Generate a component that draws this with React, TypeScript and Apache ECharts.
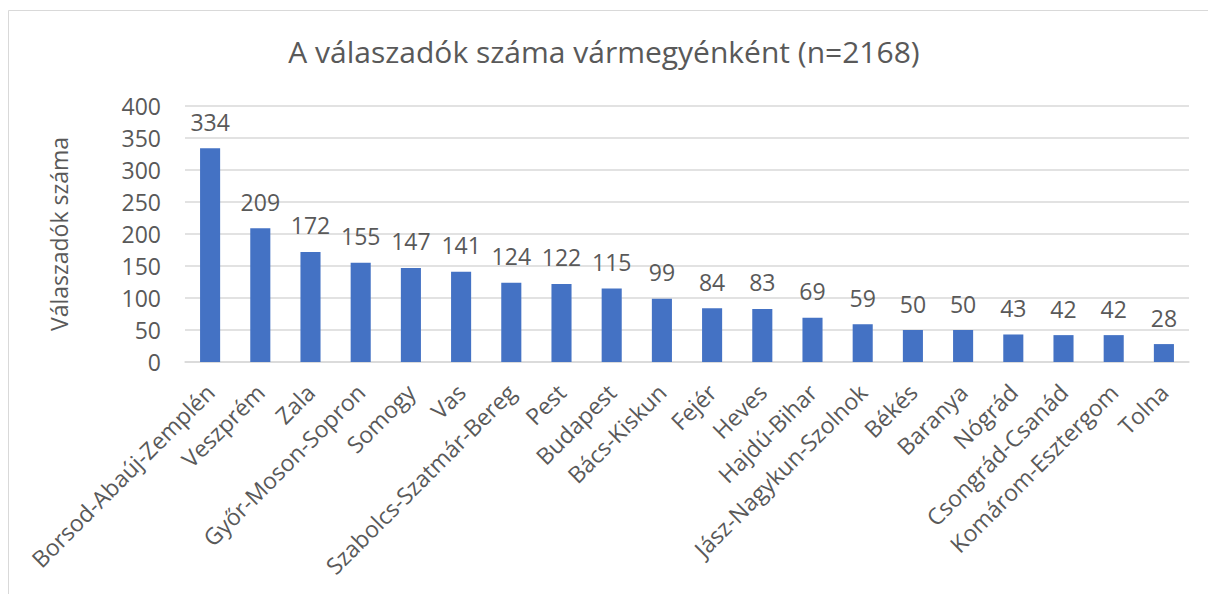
import React, { useEffect, useRef } from "react";
import * as echarts from "echarts";

const titleText = "A válaszadók száma vármegyénként (n=2168)";
const yAxisName = "Válaszadók száma";
const categories = [
  "Borsod-Abaúj-Zemplén",
  "Veszprém",
  "Zala",
  "Győr-Moson-Sopron",
  "Somogy",
  "Vas",
  "Szabolcs-Szatmár-Bereg",
  "Pest",
  "Budapest",
  "Bács-Kiskun",
  "Fejér",
  "Heves",
  "Hajdú-Bihar",
  "Jász-Nagykun-Szolnok",
  "Békés",
  "Baranya",
  "Nógrád",
  "Csongrád-Csanád",
  "Komárom-Esztergom",
  "Tolna",
];
const values = [334, 209, 172, 155, 147, 141, 124, 122, 115, 99, 84, 83, 69, 59, 50, 50, 43, 42, 42, 28];

const FONT = "'Open Sans', sans-serif";
const TEXT = "#595959";

export default function App() {
  const ref = useRef<HTMLDivElement>(null);
  useEffect(() => {
    document.body.style.margin = "0";
    const chart = echarts.init(ref.current!, null, { renderer: "svg" });
    chart.setOption({
      animation: false,
      backgroundColor: "#ffffff",
      textStyle: { fontFamily: FONT },
      title: {
        text: titleText,
        left: "center",
        top: 31,
        textStyle: { fontFamily: FONT, fontSize: 30, fontWeight: "normal", color: TEXT },
      },
      graphic: [
        {
          type: "rect",
          shape: { x: 8.5, y: 10.5, width: 1300, height: 700 },
          style: { fill: "none", stroke: "#d9d9d9", lineWidth: 1 },
          silent: true,
        },
      ],
      grid: { left: 185, right: 19, top: 106, bottom: 232 },
      xAxis: {
        type: "category",
        data: categories,
        axisLine: { show: true, lineStyle: { color: "#d9d9d9", width: 1.5 } },
        axisTick: { show: false },
        axisLabel: {
          rotate: 45,
          interval: 0,
          margin: 26,
          fontFamily: FONT,
          fontSize: 23,
          color: TEXT,
        },
      },
      yAxis: {
        type: "value",
        min: 0,
        max: 400,
        interval: 50,
        name: yAxisName,
        nameLocation: "middle",
        nameGap: 115,
        nameTextStyle: { fontFamily: FONT, fontSize: 23, color: TEXT },
        axisLine: { show: false },
        axisTick: { show: false },
        splitLine: { show: true, lineStyle: { color: "#d9d9d9", width: 1.5 } },
        axisLabel: { margin: 24, fontFamily: FONT, fontSize: 23, color: TEXT },
      },
      series: [
        {
          type: "bar",
          data: values,
          barWidth: "40%",
          itemStyle: { color: "#4472C4" },
          label: {
            show: true,
            position: "top",
            distance: 15,
            fontFamily: FONT,
            fontSize: 23,
            color: TEXT,
          },
        },
      ],
    });
    return () => chart.dispose();
  }, []);
  return <div ref={ref} style={{ width: 1208, height: 594 }} />;
}
